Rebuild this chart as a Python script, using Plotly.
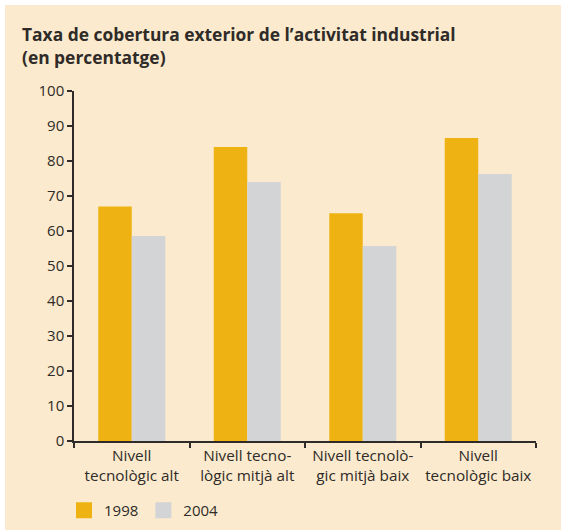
import plotly.graph_objects as go

categories = ["Nivell<br>tecnològic alt", "Nivell tecno-<br>lògic mitjà alt",
              "Nivell tecnolò-<br>gic mitjà baix", "Nivell<br>tecnològic baix"]
series_names = ["1998", "2004"]
values_1998 = [67.0, 84.0, 65.1, 86.6]
values_2004 = [58.6, 74.0, 55.7, 76.3]
y_ticks = [0, 10, 20, 30, 40, 50, 60, 70, 80, 90, 100]
colors = ["#EEB312", "#D3D4D6"]

BG = "#FBEACD"
TXT = "#2f2b28"
FONT = "Open Sans"

fig = go.Figure()
for name, vals, col in zip(series_names, [values_1998, values_2004], colors):
    fig.add_trace(go.Bar(x=categories, y=vals, name=name, showlegend=False,
                         marker=dict(color=col, line=dict(width=0))))
# legend entries with larger square swatches
for name, col in zip(series_names, colors):
    fig.add_trace(go.Scatter(x=[None], y=[None], mode="markers", name=name,
                             marker=dict(symbol="square", size=16, color=col,
                                         line=dict(width=0))))

W, H = 561, 530
L, R, T, B = 74, 25, 91, 89
pw, ph = W - L - R, H - T - B

def px_x(p):
    return (p - L) / pw

def px_y(p):
    return (H - B - p) / ph

fig.add_shape(type="rect", xref="paper", yref="paper",
              x0=px_x(5), x1=px_x(W + 5), y0=px_y(H + 5), y1=px_y(5),
              fillcolor=BG, line=dict(width=0), layer="below")

fig.add_annotation(text="<b>Taxa de cobertura exterior de l’activitat industrial<br>(en percentatge)</b>",
                   xref="paper", yref="paper", x=px_x(20), y=px_y(20),
                   xanchor="left", yanchor="top", align="left", showarrow=False,
                   font=dict(family=FONT, size=17.4, color=TXT))

fig.update_layout(
    width=W, height=H,
    margin=dict(l=L, r=R, t=T, b=B, autoexpand=False),
    paper_bgcolor="white",
    plot_bgcolor="rgba(0,0,0,0)",
    barmode="group",
    bargap=0.42,
    bargroupgap=0,
    font=dict(family=FONT, size=15, color=TXT),
    showlegend=True,
    legend=dict(orientation="h", x=px_x(64), y=px_y(494), xanchor="left", yanchor="top",
                bgcolor="rgba(0,0,0,0)", font=dict(family=FONT, size=15, color=TXT),
                itemwidth=30, tracegroupgap=0),
)
fig.update_xaxes(showline=True, linecolor=TXT, linewidth=1.5, ticks="outside",
                 tickson="boundaries", ticklen=5, tickcolor=TXT, tickwidth=1.5,
                 tickangle=0, automargin=False,
                 showgrid=False, zeroline=False, tickfont=dict(size=15.3, color=TXT))
fig.update_yaxes(range=[0, 100], tickvals=y_ticks, showline=True, linecolor=TXT,
                 linewidth=1.5, ticks="outside", ticklen=5, tickcolor=TXT, tickwidth=1.5,
                 automargin=False,
                 showgrid=False, zeroline=False, tickfont=dict(size=15, color=TXT))

fig.write_html("out.html", config={"displayModeBar": False},
               post_script="document.body.style.margin='0';")
